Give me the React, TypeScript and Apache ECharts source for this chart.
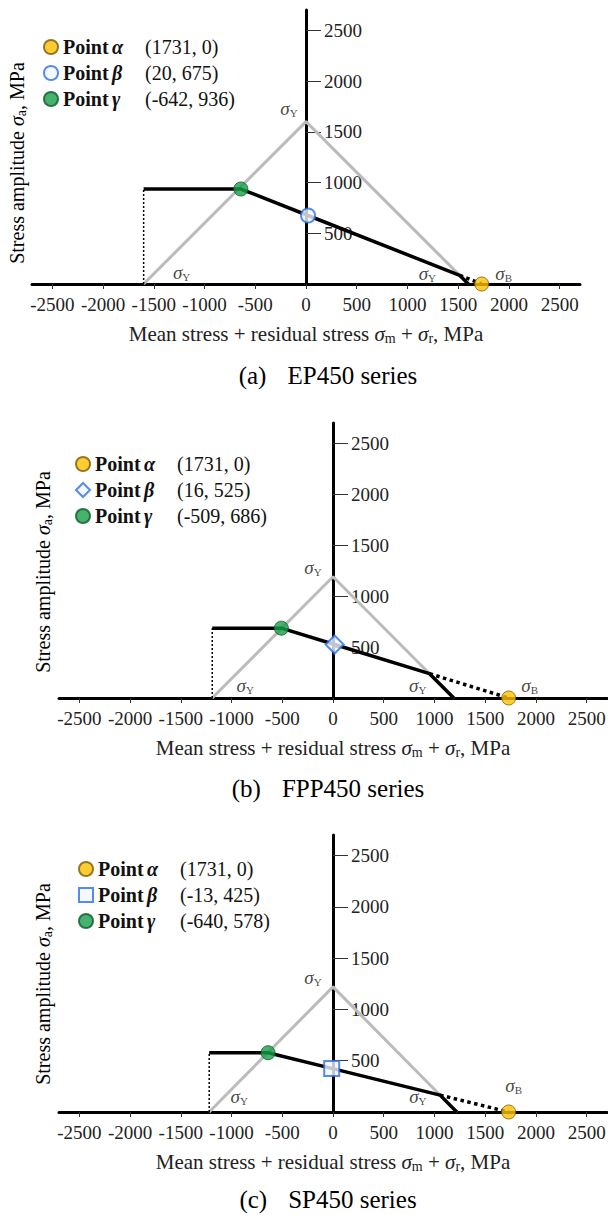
import React, { useEffect, useRef } from 'react';
import * as echarts from 'echarts';

// ---------- data ----------
const xTickValues = [-2500, -2000, -1500, -1000, -500, 0, 500, 1000, 1500, 2000, 2500];
const yTickValues = [500, 1000, 1500, 2000, 2500];
const panelLetters = ['(a)', '(b)', '(c)'];
const panelSeries = ['EP450 series', 'FPP450 series', 'SP450 series'];
const pointAlpha = [[1731, 0], [1731, 0], [1731, 0]];
const pointBeta = [[20, 675], [16, 525], [-13, 425]];
const pointGamma = [[-642, 936], [-509, 686], [-640, 578]];
const yieldStress = [1600, 1190, 1220];
const betaSymbols = ['circle', 'diamond', 'rect'];
const xRange = [-2700, 2700];
const yRange = [0, 2700];

// ---------- layout / style ----------
const FONT = 'Liberation Serif, serif';
const layout = [
  {
    grid: { left: 32, top: 10, width: 548, height: 274 },
    legend: { left: 43, top: 37, gap: 6 },
    yName: { x: 17, y: 163 },
    title: { x: 328, y: 375 },
    off: { apex: [-17, -13], left: [38, -12], right: [-41, -11], sb: [22, -11] },
  },
  {
    grid: { left: 59, top: 423, width: 548, height: 275 },
    legend: { left: 75, top: 454, gap: 6 },
    yName: { x: 43, y: 572 },
    title: { x: 328, y: 788 },
    off: { apex: [-20, -9], left: [33, -13], right: [-36, -13], sb: [21, -13] },
  },
  {
    grid: { left: 59, top: 835, width: 548, height: 277 },
    legend: { left: 78, top: 859, gap: 6 },
    yName: { x: 43, y: 984 },
    title: { x: 328, y: 1199 },
    off: { apex: [-20, -9], left: [30, -16], right: [-39, -16], sb: [5, -27] },
  },
];

const greek = ['α', 'β', 'γ'];

function kneePoint(alpha: number[], beta: number[], sy: number) {
  const m = beta[1] / (alpha[0] - beta[0]);
  const x = (sy - m * alpha[0]) / (1 - m);
  return [x, sy - x];
}

const sigmaRich = {
  s: { fontFamily: FONT, fontStyle: 'italic', fontSize: 19, color: '#111', lineHeight: 20 },
  sub: { fontFamily: FONT, fontSize: 11, color: '#111', verticalAlign: 'bottom', lineHeight: 11 },
};

function buildOption() {
  const grids: any[] = [];
  const xAxes: any[] = [];
  const yAxes: any[] = [];
  const series: any[] = [];
  const legends: any[] = [];
  const graphics: any[] = [];
  const legendText: Record<string, string> = {};

  for (let i = 0; i < 3; i++) {
    const L = layout[i];
    const a = pointAlpha[i];
    const b = pointBeta[i];
    const g = pointGamma[i];
    const sy = yieldStress[i];
    const k = kneePoint(a, b, sy);

    grids.push({ ...L.grid, containLabel: false, outerBoundsMode: 'none' });

    xAxes.push({
      gridIndex: i,
      type: 'value',
      min: xRange[0],
      max: xRange[1],
      axisLine: { onZero: false, lineStyle: { color: '#000', width: 3 } },
      axisTick: { show: true, customValues: xTickValues, length: 5, lineStyle: { color: '#333', width: 1 } },
      axisLabel: {
        customValues: xTickValues,
        margin: 11,
        fontSize: 19,
        fontFamily: FONT,
        color: '#222',
        formatter: (v: number) => String(v),
      },
      splitLine: { show: false },
      name: 'Mean stress + residual stress {s|σ}{sub|m} + {s|σ}{sub|r}, MPa',
      nameLocation: 'middle',
      nameGap: 38,
      nameTextStyle: {
        fontFamily: FONT,
        fontSize: 21,
        color: '#222',
        lineHeight: 23,
        rich: {
          s: { fontFamily: FONT, fontStyle: 'italic', fontSize: 21, color: '#222', lineHeight: 23 },
          sub: { fontFamily: FONT, fontSize: 14, color: '#222', verticalAlign: 'bottom', lineHeight: 14 },
        },
      },
    });

    // y axis drawn at x = 0: shift it from the grid's left edge by the share of the range below 0
    const yAxisShift = -L.grid.width * (0 - xRange[0]) / (xRange[1] - xRange[0]);
    yAxes.push({
      gridIndex: i,
      type: 'value',
      min: yRange[0],
      max: yRange[1],
      position: 'left',
      offset: yAxisShift,
      axisLine: { onZero: false, lineStyle: { color: '#000', width: 3 } },
      axisTick: { show: true, inside: true, customValues: yTickValues, length: 15, lineStyle: { color: '#333', width: 1 } },
      axisLabel: {
        inside: true,
        customValues: yTickValues,
        margin: 18,
        fontSize: 19,
        fontFamily: FONT,
        color: '#222',
        formatter: (v: number) => String(v),
      },
      splitLine: { show: false },
    });

    // gray yield triangle
    series.push({
      type: 'line',
      xAxisIndex: i,
      yAxisIndex: i,
      data: [[-sy, 0], [0, sy], [sy, 0]],
      symbol: 'none',
      silent: true,
      lineStyle: { color: '#BBBBBB', width: 3 },
      z: 2,
    });
    // vertical dotted guide
    series.push({
      type: 'line',
      xAxisIndex: i,
      yAxisIndex: i,
      data: [[-sy, 0], [-sy, g[1]]],
      symbol: 'none',
      silent: true,
      lineStyle: { color: '#000', width: 1.5, type: [2, 2] },
      z: 3,
    });
    // dotted line from knee to alpha
    series.push({
      type: 'line',
      xAxisIndex: i,
      yAxisIndex: i,
      data: [k, a],
      symbol: 'none',
      silent: true,
      lineStyle: { color: '#000', width: 3.5, type: [3.5, 3.5] },
      z: 3,
    });
    // black limit line
    series.push({
      type: 'line',
      xAxisIndex: i,
      yAxisIndex: i,
      data: [[-sy, g[1]], g, b, k, [sy, 0]],
      symbol: 'none',
      silent: true,
      lineStyle: { color: '#000', width: 3.5, join: 'round' },
      z: 4,
    });

    const nA = `alpha-${i}`;
    const nB = `beta-${i}`;
    const nG = `gamma-${i}`;
    legendText[nA] = `{p|Point}{g|${greek[0]}}{c|(${a[0]}, ${a[1]})}`;
    legendText[nB] = `{p|Point}{g|${greek[1]}}{c|(${b[0]}, ${b[1]})}`;
    legendText[nG] = `{p|Point}{g|${greek[2]}}{c|(${g[0]}, ${g[1]})}`;

    series.push({
      type: 'scatter',
      name: nA,
      xAxisIndex: i,
      yAxisIndex: i,
      data: [a],
      symbol: 'circle',
      symbolSize: 14,
      itemStyle: { color: '#FFC000', borderColor: '#7A5B00', borderWidth: 1 },
      z: 6,
    });
    series.push({
      type: 'scatter',
      name: nB,
      xAxisIndex: i,
      yAxisIndex: i,
      data: [b],
      symbol: betaSymbols[i],
      symbolSize: betaSymbols[i] === 'diamond' ? 18 : betaSymbols[i] === 'rect' ? 15 : 14,
      itemStyle: { color: '#F3F8FF', borderColor: '#2A6FE8', borderWidth: 2 },
      z: 6,
    });
    series.push({
      type: 'scatter',
      name: nG,
      xAxisIndex: i,
      yAxisIndex: i,
      data: [g],
      symbol: 'circle',
      symbolSize: 14,
      itemStyle: { color: '#17A04A', borderColor: '#0B5A28', borderWidth: 1 },
      z: 6,
    });

    // sigma labels
    const lab = (pt: number[], off: number[], sub: string) => ({
      value: pt,
      label: { offset: off, formatter: `{s|σ}{sub|${sub}}` },
    });
    series.push({
      type: 'scatter',
      xAxisIndex: i,
      yAxisIndex: i,
      silent: true,
      symbolSize: 1,
      itemStyle: { color: 'rgba(0,0,0,0)' },
      label: { show: true, position: 'inside', rich: sigmaRich, lineHeight: 20 },
      data: [
        lab([0, sy], L.off.apex, 'Y'),
        lab([-sy, 0], L.off.left, 'Y'),
        lab([sy, 0], L.off.right, 'Y'),
        lab(a, L.off.sb, 'B'),
      ],
      z: 7,
    });

    legends.push({
      orient: 'vertical',
      left: L.legend.left,
      top: L.legend.top,
      padding: 0,
      itemWidth: 14,
      itemHeight: 14,
      itemGap: L.legend.gap,
      selectedMode: false,
      data: [nA, nB, nG],
      formatter: (name: string) => legendText[name],
      textStyle: {
        fontFamily: FONT,
        fontSize: 20,
        color: '#111',
        lineHeight: 20,
        rich: {
          p: { fontFamily: FONT, fontSize: 20, fontWeight: 'bold', color: '#111', width: 49, lineHeight: 20 },
          g: { fontFamily: FONT, fontSize: 20, fontWeight: 'bold', fontStyle: 'italic', color: '#111', width: 33, lineHeight: 20 },
          c: { fontFamily: FONT, fontSize: 20, color: '#111', lineHeight: 20 },
        },
      },
    });

    graphics.push({
      type: 'text',
      x: L.yName.x,
      y: L.yName.y,
      rotation: Math.PI / 2,
      style: {
        text: '{t|Stress amplitude }{s|σ}{sub|a}{t|, MPa}',
        align: 'center',
        verticalAlign: 'middle',
        rich: {
          t: { fontFamily: FONT, fontSize: 20, color: '#222', lineHeight: 23 },
          s: { fontFamily: FONT, fontStyle: 'italic', fontSize: 20, color: '#222', lineHeight: 23 },
          sub: { fontFamily: FONT, fontSize: 14, color: '#222', verticalAlign: 'bottom', lineHeight: 14 },
        },
      },
    });
    graphics.push({
      type: 'text',
      x: L.title.x,
      y: L.title.y,
      style: {
        text: `{a|${panelLetters[i]}}{b|${panelSeries[i]}}`,
        align: 'center',
        verticalAlign: 'middle',
        rich: {
          a: { fontFamily: FONT, fontSize: 25, color: '#111', lineHeight: 25, padding: [0, 21, 0, 0] },
          b: { fontFamily: FONT, fontSize: 25, color: '#111', lineHeight: 25 },
        },
      },
    });
  }

  return {
    animation: false,
    backgroundColor: '#fff',
    grid: grids,
    xAxis: xAxes,
    yAxis: yAxes,
    legend: legends,
    series,
    graphic: graphics,
  };
}

export default function App() {
  const ref = useRef<HTMLDivElement>(null);
  useEffect(() => {
    document.body.style.margin = '0';
    if (!ref.current) return;
    const chart = echarts.init(ref.current, undefined, { renderer: 'svg' });
    chart.setOption(buildOption() as any);
    return () => chart.dispose();
  }, []);
  return <div ref={ref} style={{ width: 608, height: 1215 }} />;
}
